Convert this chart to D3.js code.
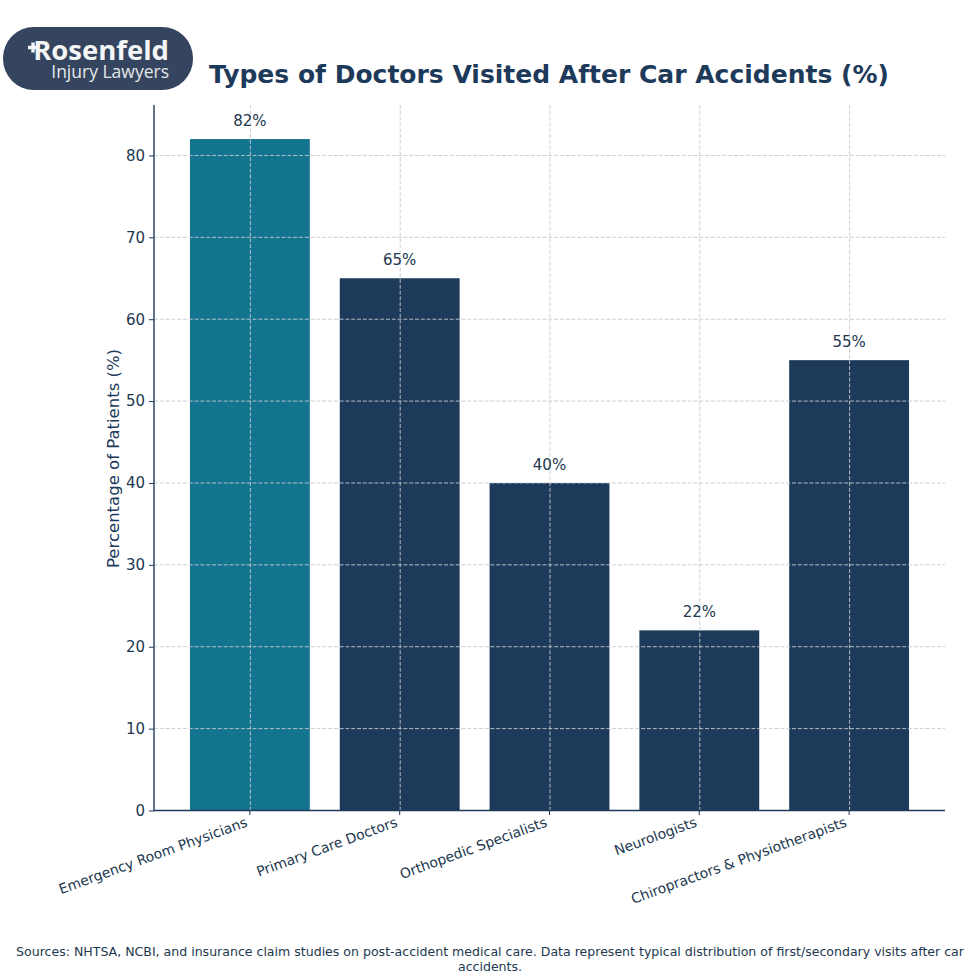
<!DOCTYPE html>
<html>
<head>
<meta charset="utf-8">
<script src="https://cdn.jsdelivr.net/npm/d3@7"></script>
<style>
  html, body { margin: 0; padding: 0; background: #fff; }
  text { font-family: "DejaVu Sans", sans-serif; }
</style>
</head>
<body>
<div id="chart-area"></div>
<script>
var categories = ["Emergency Room Physicians", "Primary Care Doctors", "Orthopedic Specialists", "Neurologists", "Chiropractors & Physiotherapists"];
var values = [82, 65, 40, 22, 55];
var barColors = ["#12748f", "#1d3a5a", "#1d3a5a", "#1d3a5a", "#1d3a5a"];
var yTicks = [0, 10, 20, 30, 40, 50, 60, 70, 80];
var sourceLines = [
    "Sources: NHTSA, NCBI, and insurance claim studies on post-accident medical care. Data represent typical distribution of first/secondary visits after car",
    "accidents."
];

var navy = "#1d3a5a";
var ink = "#22384f";

var svg = d3.select("#chart-area")
    .append("svg")
        .attr("width", 980)
        .attr("height", 980)
        .style("display", "block");

// Scales
var x = d3.scaleBand()
    .domain(categories)
    .range([154, 945])
    .paddingInner(0.2)
    .paddingOuter(0.24);
var y = d3.scaleLinear()
    .domain([0, 86.1])
    .range([810.5, 105.5]);

// Bars
svg.selectAll("rect.bar").data(categories)
    .enter().append("rect")
        .attr("class", "bar")
        .attr("x", function(d){ return x(d); })
        .attr("y", function(d, i){ return y(values[i]); })
        .attr("width", x.bandwidth())
        .attr("height", function(d, i){ return y(0) - y(values[i]); })
        .attr("fill", function(d, i){ return barColors[i]; });

// Grid, drawn over the bars
svg.selectAll("line.hgrid").data(yTicks.slice(1))
    .enter().append("line")
        .attr("class", "hgrid")
        .attr("x1", 154)
        .attr("x2", 945)
        .attr("y1", function(d){ return y(d); })
        .attr("y2", function(d){ return y(d); });
svg.selectAll("line.vgrid").data(categories)
    .enter().append("line")
        .attr("class", "vgrid")
        .attr("x1", function(d){ return x(d) + x.bandwidth() / 2 + 0.5; })
        .attr("x2", function(d){ return x(d) + x.bandwidth() / 2 + 0.5; })
        .attr("y1", 105)
        .attr("y2", 810);
svg.selectAll("line.hgrid, line.vgrid")
    .attr("stroke", "#c6cace")
    .attr("stroke-opacity", 0.9)
    .attr("stroke-width", 1)
    .attr("stroke-dasharray", "4,1.8");

// Y Axis
var yAxisCall = d3.axisLeft(y)
    .tickValues(yTicks)
    .tickSize(5)
    .tickPadding(4);
var yAxis = svg.append("g")
    .attr("transform", "translate(154,0)")
    .call(yAxisCall);
yAxis.select(".domain").remove();
yAxis.selectAll("line").attr("stroke", navy);
yAxis.selectAll("text")
    .attr("fill", ink)
    .attr("font-size", "15px")
    .style("font-family", "'DejaVu Sans', sans-serif");

// X Axis
var xAxisCall = d3.axisBottom(x).tickSize(5).tickFormat("");
var xAxis = svg.append("g")
    .attr("transform", "translate(0,810)")
    .call(xAxisCall);
xAxis.select(".domain").remove();
xAxis.selectAll("line").attr("stroke", navy);

// Spines
svg.append("line")
    .attr("x1", 154).attr("x2", 154)
    .attr("y1", 105).attr("y2", 811)
    .attr("stroke", navy).attr("stroke-width", 1.4);
svg.append("line")
    .attr("x1", 154).attr("x2", 945)
    .attr("y1", 810.5).attr("y2", 810.5)
    .attr("stroke", navy).attr("stroke-width", 1.4);

// Category labels, rotated
svg.selectAll("text.cat").data(categories)
    .enter().append("text")
        .attr("class", "cat")
        .attr("text-anchor", "end")
        .attr("font-size", "13.9px")
        .attr("fill", ink)
        .attr("transform", function(d){
            return "translate(" + (x(d) + x.bandwidth() / 2 - 1.5) + ",826) rotate(-20)";
        })
        .text(function(d){ return d; });

// Value labels
svg.selectAll("text.val").data(categories)
    .enter().append("text")
        .attr("class", "val")
        .attr("text-anchor", "middle")
        .attr("x", function(d){ return x(d) + x.bandwidth() / 2; })
        .attr("y", function(d, i){ return y(values[i]) - 13; })
        .attr("font-size", "15px")
        .attr("fill", ink)
        .text(function(d, i){ return values[i] + "%"; });

// Axis label
svg.append("text")
    .attr("transform", "translate(119,458.5) rotate(-90)")
    .attr("text-anchor", "middle")
    .attr("font-size", "16.5px")
    .attr("fill", navy)
    .text("Percentage of Patients (%)");

// Title
svg.append("text")
    .attr("x", 549)
    .attr("y", 83)
    .attr("text-anchor", "middle")
    .attr("font-size", "25px")
    .attr("font-weight", "bold")
    .attr("fill", navy)
    .text("Types of Doctors Visited After Car Accidents (%)");

// Footer
svg.selectAll("text.source").data(sourceLines)
    .enter().append("text")
        .attr("class", "source")
        .attr("x", 490)
        .attr("y", function(d, i){ return 956 + i * 15; })
        .attr("text-anchor", "middle")
        .attr("font-size", "12.55px")
        .attr("fill", ink)
        .text(function(d){ return d; });

// Logo
var logo = svg.append("g");
logo.append("rect")
    .attr("x", 3).attr("y", 27)
    .attr("width", 190).attr("height", 63)
    .attr("rx", 31).attr("ry", 31)
    .attr("fill", "#36455f");
// the little cross on the R
logo.append("path")
    .attr("d", "M28,47.5H38M33,42.5V52.5")
    .attr("stroke", "#f4f5f6")
    .attr("stroke-width", 3.4)
    .attr("fill", "none");
logo.append("text")
    .attr("x", 169).attr("y", 60)
    .attr("text-anchor", "end")
    .attr("font-size", "27.5px")
    .attr("font-weight", "700")
    .attr("fill", "#f4f5f6")
    .style("font-family", "'Open Sans', sans-serif")
    .text("Rosenfeld");
logo.append("text")
    .attr("x", 169).attr("y", 78)
    .attr("text-anchor", "end")
    .attr("font-size", "17.5px")
    .attr("fill", "#e4e7ea")
    .style("font-family", "'Open Sans', sans-serif")
    .text("Injury Lawyers");
</script>
</body>
</html>
